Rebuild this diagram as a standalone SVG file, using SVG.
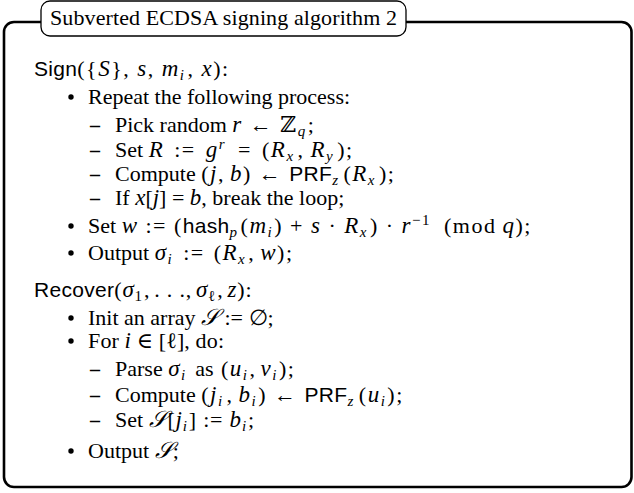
<svg xmlns="http://www.w3.org/2000/svg" width="634" height="493" viewBox="0 0 634 493">
<style>
.t{font-family:"Liberation Serif","DejaVu Serif",serif;font-size:22px;fill:#000}
.m{letter-spacing:1.5px}
.m0{letter-spacing:0px}
.m1{letter-spacing:0.8px}
.mi{font-style:italic;font-size:23px}
.sf{font-family:"Liberation Sans","DejaVu Sans",sans-serif;font-size:21px;letter-spacing:0.3px}
.sub{font-size:15px}
.bb{font-family:"DejaVu Serif","DejaVu Sans",serif}
.dash{font-family:"Liberation Serif",serif;font-size:20px;font-weight:bold}
.frame{fill:none;stroke:#000;stroke-width:2.6}
.titlebox{fill:#fff;stroke:#000;stroke-width:1.3}
</style>
<rect width="634" height="493" fill="#fff"/>
<g id="frame">
<rect class="frame" x="4" y="22" width="627.5" height="465" rx="10"/>
</g>
<g id="title">
<rect class="titlebox" x="41" y="1" width="365" height="35" rx="9"/>
<text class="t" x="50" y="25" textLength="347" lengthAdjust="spacing">Subverted ECDSA signing algorithm 2</text>
</g>
<g id="sign">
<text class="t" x="34" y="76"><tspan class="sf">Sign</tspan><tspan class="m">({<tspan class="mi">S</tspan>},<tspan class="mi" dx="7">s</tspan>,<tspan class="mi" dx="7">m</tspan><tspan class="sub mi" dy="4">i</tspan><tspan dy="-4" dx="2">,</tspan><tspan class="mi" dx="7">x</tspan>)</tspan>:</text>
<circle cx="71" cy="97" r="2.7"/>
<text class="t" x="88" y="104">Repeat the following process:</text>
<text class="dash" x="90" y="132">–</text>
<text class="t" x="115" y="132">Pick random <tspan class="m"><tspan class="mi">r</tspan> ← <tspan class="bb">ℤ</tspan><tspan class="sub mi" dy="4">q</tspan></tspan><tspan dy="-4" dx="1">;</tspan></text>
<text class="dash" x="90" y="157">–</text>
<text class="t" x="115" y="157">Set <tspan class="m"><tspan class="mi">R</tspan><tspan dx="3"> := </tspan><tspan class="mi" dx="3">g</tspan><tspan class="sub mi" dy="-8">r</tspan><tspan dy="8" dx="5"> = </tspan><tspan dx="3">(</tspan><tspan class="mi">R</tspan><tspan class="sub mi" dy="4">x</tspan><tspan dy="-4" dx="3">,</tspan><tspan class="mi" dx="6">R</tspan><tspan class="sub mi" dy="4">y</tspan><tspan dy="-4" dx="3">)</tspan></tspan>;</text>
<text class="dash" x="90" y="181">–</text>
<text class="t" x="115" y="181">Compute <tspan class="m">(<tspan class="mi">j</tspan>,<tspan class="mi" dx="5">b</tspan>) ← <tspan class="sf">PRF</tspan><tspan class="sub mi" dy="4">z</tspan><tspan dy="-4" dx="4">(</tspan><tspan class="mi">R</tspan><tspan class="sub mi" dy="4">x</tspan><tspan dy="-4" dx="3">)</tspan></tspan>;</text>
<text class="dash" x="90" y="205">–</text>
<text class="t" x="115" y="205">If <tspan class="m0"><tspan class="mi">x</tspan>[<tspan class="mi">j</tspan>] = <tspan class="mi">b</tspan></tspan>, break the loop;</text>
<circle cx="71" cy="226" r="2.7"/>
<text class="t" x="88" y="233">Set <tspan class="m"><tspan class="mi">w</tspan> := (<tspan class="sf">hash</tspan><tspan class="sub mi" dy="4">p</tspan><tspan dy="-4" dx="2">(</tspan><tspan class="mi">m</tspan><tspan class="sub mi" dy="4">i</tspan><tspan dy="-4" dx="1">) + </tspan><tspan class="mi">s</tspan> · <tspan class="mi">R</tspan><tspan class="sub mi" dy="4">x</tspan><tspan dy="-4" dx="2">) · </tspan><tspan class="mi">r</tspan><tspan class="sub" dy="-8">−1</tspan><tspan dy="8" dx="13">(mod</tspan><tspan class="mi" dx="6">q</tspan>)</tspan>;</text>
<circle cx="71" cy="253" r="2.7"/>
<text class="t" x="88" y="260">Output <tspan class="m"><tspan class="mi">σ</tspan><tspan class="sub mi" dy="4">i</tspan><tspan dy="-4" dx="3"> := </tspan><tspan dx="2">(</tspan><tspan class="mi">R</tspan><tspan class="sub mi" dy="4">x</tspan><tspan dy="-4" dx="2">,</tspan><tspan class="mi" dx="5">w</tspan>)</tspan>;</text>
</g>
<g id="recover">
<text class="t" x="34" y="297"><tspan class="sf">Recover</tspan><tspan class="m1">(<tspan class="mi">σ</tspan><tspan class="sub" dy="4">1</tspan><tspan dy="-4" dx="1">,</tspan><tspan dx="4">. . .</tspan>,<tspan class="mi" dx="4">σ</tspan><tspan class="sub" dy="4">ℓ</tspan><tspan dy="-4" dx="1">,</tspan><tspan class="mi" dx="4">z</tspan>)</tspan>:</text>
<circle cx="71" cy="318" r="2.7"/>
<text class="t" x="88" y="325">Init an array <tspan class="m0"><tspan class="mi">𝒮</tspan> := ∅</tspan>;</text>
<circle cx="71" cy="341" r="2.7"/>
<text class="t" x="88" y="348" textLength="136" lengthAdjust="spacing">For <tspan class="mi">i</tspan> ∈ [ℓ], do:</text>
<text class="dash" x="90" y="376">–</text>
<text class="t" x="115" y="376">Parse <tspan class="m"><tspan class="mi">σ</tspan><tspan class="sub mi" dy="4">i</tspan></tspan><tspan dy="-4" dx="3"> as </tspan><tspan class="m" dx="2">(<tspan class="mi">u</tspan><tspan class="sub mi" dy="4">i</tspan><tspan dy="-4" dx="1">,</tspan><tspan class="mi" dx="4">v</tspan><tspan class="sub mi" dy="4">i</tspan><tspan dy="-4" dx="1">)</tspan></tspan>;</text>
<text class="dash" x="90" y="402">–</text>
<text class="t" x="115" y="402">Compute <tspan class="m">(<tspan class="mi">j</tspan><tspan class="sub mi" dy="4">i</tspan><tspan dy="-4" dx="3">,</tspan><tspan class="mi" dx="5">b</tspan><tspan class="sub mi" dy="4">i</tspan><tspan dy="-4" dx="1">) ← </tspan><tspan class="sf">PRF</tspan><tspan class="sub mi" dy="4">z</tspan><tspan dy="-4" dx="4">(</tspan><tspan class="mi">u</tspan><tspan class="sub mi" dy="4">i</tspan><tspan dy="-4" dx="1">)</tspan></tspan>;</text>
<text class="dash" x="90" y="427">–</text>
<text class="t" x="115" y="427">Set <tspan class="m1"><tspan class="mi">𝒮</tspan>[<tspan class="mi">j</tspan><tspan class="sub mi" dy="4">i</tspan><tspan dy="-4" dx="1">] := </tspan><tspan class="mi">b</tspan><tspan class="sub mi" dy="4">i</tspan></tspan><tspan dy="-4" dx="1">;</tspan></text>
<circle cx="71" cy="451" r="2.7"/>
<text class="t" x="88" y="458">Output <tspan class="mi">𝒮</tspan>;</text>
</g>
</svg>
